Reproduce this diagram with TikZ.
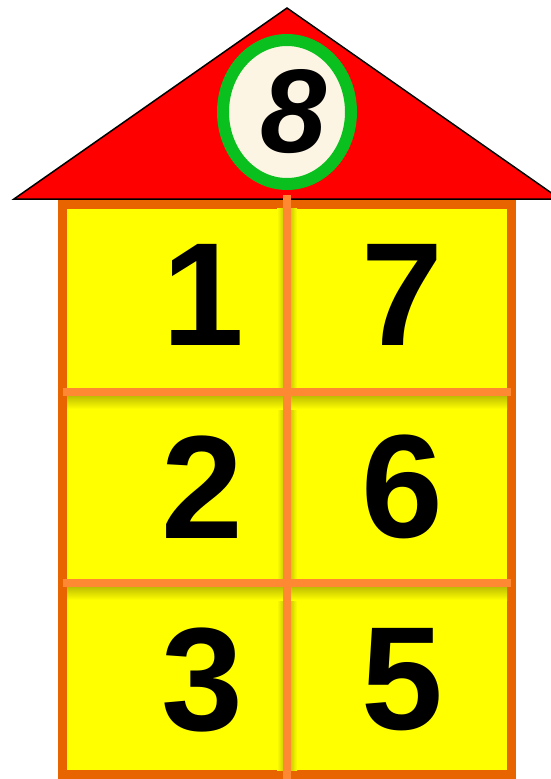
\documentclass[tikz,border=0pt]{standalone}
\usepackage{fontspec}
\setmainfont{Liberation Sans}
\definecolor{techo}{RGB}{255,0,0}
\definecolor{aro}{RGB}{10,192,30}
\definecolor{crema}{RGB}{252,245,228}
\definecolor{marco}{RGB}{232,100,0}
\definecolor{liston}{RGB}{255,136,51}
\definecolor{pared}{RGB}{255,255,0}
\begin{document}
\begin{tikzpicture}[
  x=1pt, y=-1pt,
  cifra/.style={inner sep=0pt, font=\fontsize{147}{147}\selectfont\bfseries},
  sombra/.style={top color=pared!75!black, bottom color=pared},
  barra/.style={liston, line width=8pt}
]
  \useasboundingbox (0,0) rectangle (551,779);
  \draw[marco, fill=pared, line width=9pt] (62.5,204) rectangle (511.5,774.5);
  \shade[left color=pared, right color=pared!82!black] (277,208) rectangle (283,770);
  \shade[left color=pared!82!black, right color=pared] (291,208) rectangle (297,770);
  \shade[sombra] (67,396) rectangle (507,409);
  \shade[sombra] (67,587) rectangle (507,600);
  \draw[fill=techo, line width=1.5pt, line join=miter] (287,8) -- (560,199) -- (14,199) -- cycle;
  \draw[aro, fill=crema, line width=12pt] (287,112) ellipse (64 and 72);
  \node[inner sep=0pt, font=\fontsize{119}{119}\selectfont\bfseries\itshape] (ocho) at (294,112) {8};
  \coordinate (arriba) at (287,195);
  \coordinate (abajo) at (287,779);
  \coordinate (f1i) at (63,392);
  \coordinate (f1d) at (511,392);
  \coordinate (f2i) at (63,583);
  \coordinate (f2d) at (511,583);
  \draw[barra] (f1i) -- (f1d);
  \draw[barra] (f2i) -- (f2d);
  \draw[barra] (arriba) -- (abajo);
  \node[cifra] (n1) at (203,295) {1};
  \node[cifra] (n7) at (402,295) {7};
  \node[cifra] (n2) at (202,487) {2};
  \node[cifra] (n6) at (402,487) {6};
  \node[cifra] (n3) at (202,680) {3};
  \node[cifra] (n5) at (402,680) {5};
\end{tikzpicture}
\end{document}
